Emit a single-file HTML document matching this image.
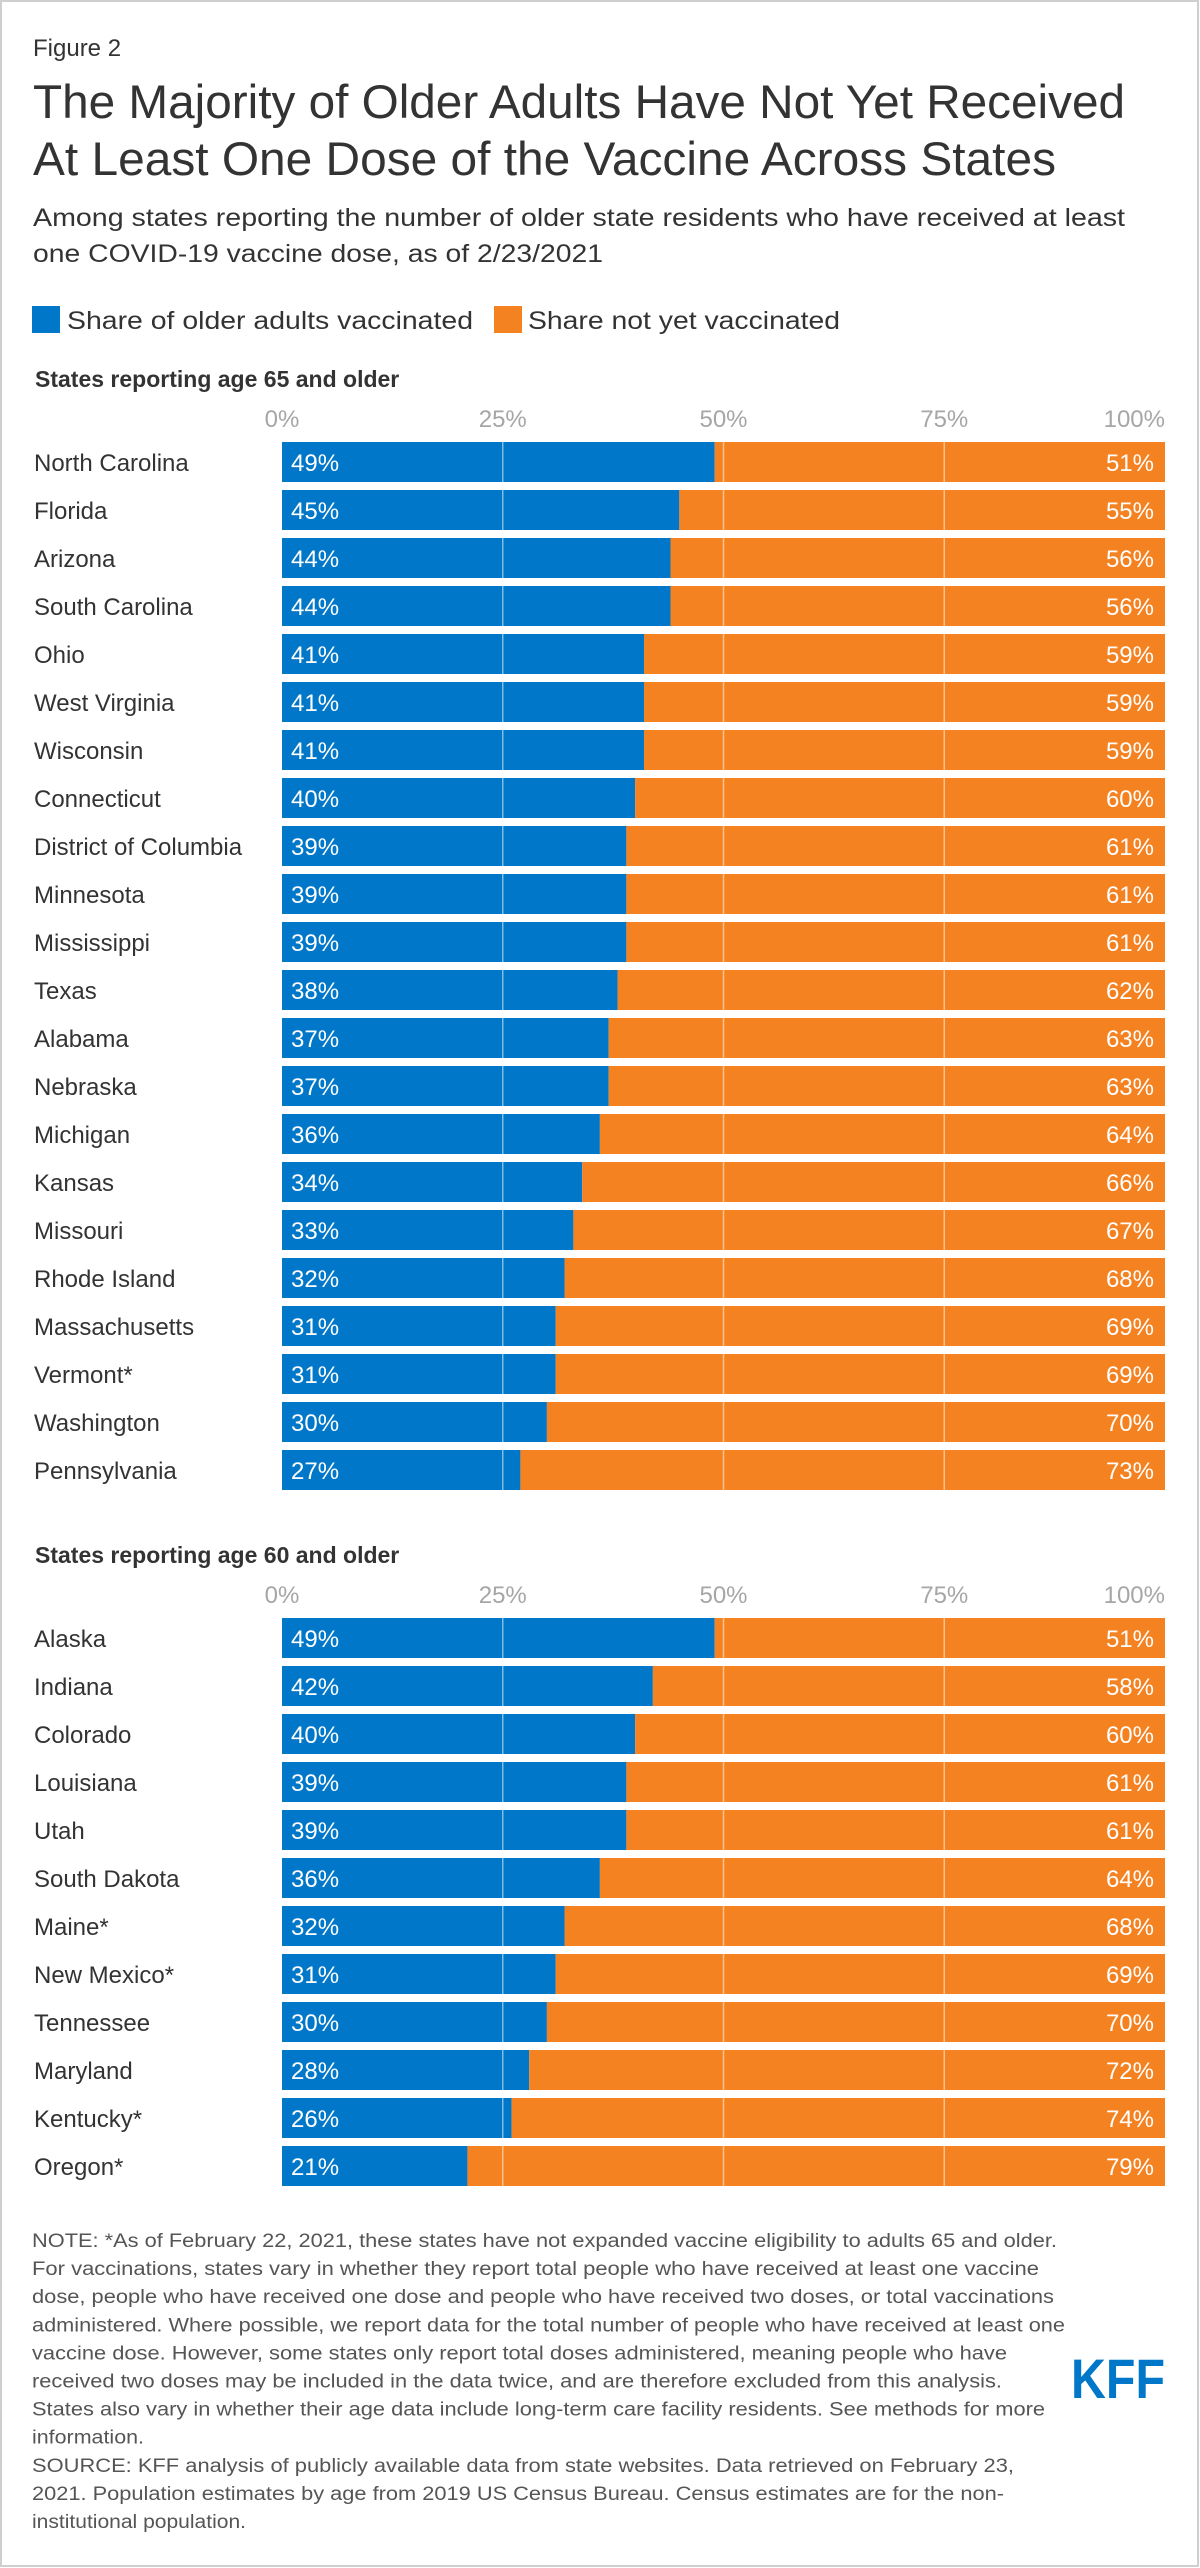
<!DOCTYPE html>
<html><head><meta charset="utf-8">
<style>
html,body{margin:0;padding:0;background:#fff;}
svg{display:block;font-family:"Liberation Sans",Arial,sans-serif;}
</style></head>
<body>
<svg id="chart" width="1200" height="2568" viewBox="0 0 1200 2568" xmlns="http://www.w3.org/2000/svg">
<rect x="1" y="1" width="1197" height="2565" fill="#fff" stroke="#cfcfcf" stroke-width="2"/>
<text x="33" y="56" font-size="24" fill="#333">Figure 2</text>
<text x="33" y="118" font-size="47" fill="#333" textLength="1092" lengthAdjust="spacingAndGlyphs">The Majority of Older Adults Have Not Yet Received</text>
<text x="33" y="175" font-size="47" fill="#333" textLength="1023" lengthAdjust="spacingAndGlyphs">At Least One Dose of the Vaccine Across States</text>
<text x="33" y="226" font-size="25" fill="#333" textLength="1092" lengthAdjust="spacingAndGlyphs">Among states reporting the number of older state residents who have received at least</text>
<text x="33" y="262" font-size="25" fill="#333" textLength="570" lengthAdjust="spacingAndGlyphs">one COVID-19 vaccine dose, as of 2/23/2021</text>
<g>
<rect x="32" y="306" width="28" height="27" fill="#0077C8"/>
<text x="67" y="329" font-size="25" fill="#333" textLength="406" lengthAdjust="spacingAndGlyphs">Share of older adults vaccinated</text>
<rect x="494" y="306" width="28" height="27" fill="#F58220"/>
<text x="528" y="329" font-size="25" fill="#333" textLength="312" lengthAdjust="spacingAndGlyphs">Share not yet vaccinated</text>
</g>
<g id="panels"></g>
<g font-size="19" fill="#555" id="notes"></g>
<text x="1071" y="2398" font-size="56" font-weight="bold" fill="#0077C8" textLength="94" lengthAdjust="spacingAndGlyphs">KFF</text>
</svg>
<script>
const states65 = ["North Carolina","Florida","Arizona","South Carolina","Ohio","West Virginia","Wisconsin","Connecticut","District of Columbia","Minnesota","Mississippi","Texas","Alabama","Nebraska","Michigan","Kansas","Missouri","Rhode Island","Massachusetts","Vermont*","Washington","Pennsylvania"];
const vacc65 = [49,45,44,44,41,41,41,40,39,39,39,38,37,37,36,34,33,32,31,31,30,27];
const states60 = ["Alaska","Indiana","Colorado","Louisiana","Utah","South Dakota","Maine*","New Mexico*","Tennessee","Maryland","Kentucky*","Oregon*"];
const vacc60 = [49,42,40,39,39,36,32,31,30,28,26,21];
const tickValues = [0,25,50,75,100];
const tickLabels = ["0%","25%","50%","75%","100%"];

const NS = "http://www.w3.org/2000/svg";
const X0 = 282, X1 = 1165;
function xScale(v){ return X0 + (X1 - X0) * v / 100; }
function mk(tag, attrs, parent, txt){
  const e = document.createElementNS(NS, tag);
  for (const k in attrs) e.setAttribute(k, attrs[k]);
  if (txt !== undefined) e.textContent = txt;
  parent.appendChild(e);
  return e;
}
const panels = document.getElementById('panels');
function panel(title, titleY, tickY, barTop, names, vals, key){
  const g = mk('g', {}, panels);
  
  
  const t = mk('text', {x:35, y:titleY, 'font-size':23, 'font-weight':'bold', fill:'#333'}, g, title);
  
  
  tickValues.forEach((v, i) => {
    const anchor = v === 100 ? 'end' : 'middle';
    const tk = mk('text', {x:xScale(v), y:tickY, 'font-size':24, fill:'#a6a6a6', 'text-anchor':anchor}, g, tickLabels[i]);
    
    
  });
  const pitch = 48, h = 40;
  names.forEach((n, i) => {
    const y = barTop + i * pitch;
    const v = vals[i];
    const lab = mk('text', {x:34, y:y + 29, 'font-size':24, fill:'#333'}, g, n);
    
    
    const b1 = mk('rect', {x:xScale(0), y:y, width:xScale(v) - xScale(0), height:h, fill:'#0077C8'}, g);
    
    
    const b2 = mk('rect', {x:xScale(v), y:y, width:xScale(100) - xScale(v), height:h, fill:'#F58220'}, g);
    
    
    const l1 = mk('text', {x:xScale(0) + 9, y:y + 29, 'font-size':24, fill:'#fff'}, g, v + '%');
    
    
    const l2 = mk('text', {x:xScale(100) - 11, y:y + 29, 'font-size':24, fill:'#fff', 'text-anchor':'end'}, g, (100 - v) + '%');
    
    
  });
  [25,50,75].forEach(v => {
    const gl = mk('line', {x1:xScale(v), x2:xScale(v), y1:barTop, y2:barTop + (names.length - 1) * pitch + h, stroke:'rgba(255,255,255,0.5)', 'stroke-width':1.5}, g);
    
    
  });
}
panel('States reporting age 65 and older', 387, 427, 442, states65, vacc65, 'age-65');
panel('States reporting age 60 and older', 1563, 1603, 1618, states60, vacc60, 'age-60');

const noteLines = [
 ["NOTE: *As of February 22, 2021, these states have not expanded vaccine eligibility to adults 65 and older.",1025],
 ["For vaccinations, states vary in whether they report total people who have received at least one vaccine",1007],
 ["dose, people who have received one dose and people who have received two doses, or total vaccinations",1022],
 ["administered. Where possible, we report data for the total number of people who have received at least one",1033],
 ["vaccine dose. However, some states only report total doses administered, meaning people who have",975],
 ["received two doses may be included in the data twice, and are therefore excluded from this analysis.",970],
 ["States also vary in whether their age data include long-term care facility residents. See methods for more",1013],
 ["information.",112],
 ["SOURCE: KFF analysis of publicly available data from state websites. Data retrieved on February 23,",982],
 ["2021. Population estimates by age from 2019 US Census Bureau. Census estimates are for the non-",972],
 ["institutional population.",214]
];
const notes = document.getElementById('notes');
noteLines.forEach((ln, i) => {
  const t = mk('text', {x:32, y:2247 + i * 28.1, textLength:ln[1], lengthAdjust:'spacingAndGlyphs'}, notes, ln[0]);
  
  
});
</script>
</body></html>
